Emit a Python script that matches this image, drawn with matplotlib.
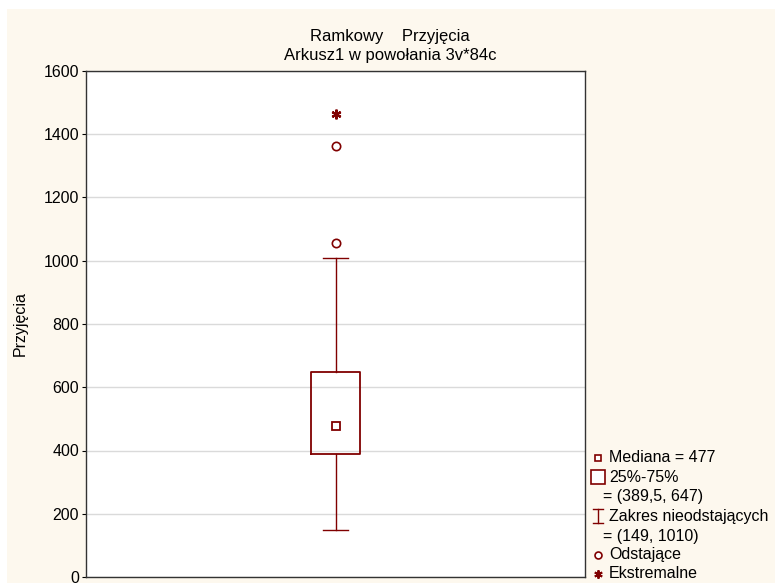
import matplotlib
matplotlib.use("Agg")
import matplotlib.pyplot as plt
from matplotlib.patches import Rectangle
from matplotlib.lines import Line2D

plt.rcParams['font.family'] = ['Liberation Sans', 'DejaVu Sans']

# Summary statistics of the "Przyjęcia" variable
median = 477
q1, q3 = 389.5, 647
whisker_low, whisker_high = 149, 1010
outliers = [1055, 1362]
extremes = [1463]
y_ticks = [0, 200, 400, 600, 800, 1000, 1200, 1400, 1600]

title = "Ramkowy    Przyjęcia\nArkusz1 w powołania 3v*84c"
ylabel = "Przyjęcia"

RED = "#800000"
CREAM = "#FDF8EE"

fig = plt.figure(figsize=(7.75, 5.83), dpi=100)
fig.patch.set_facecolor("white")
fig.add_artist(Rectangle((7 / 775, 0), 1, 1 - 9 / 583, transform=fig.transFigure,
                         facecolor=CREAM, edgecolor="none", zorder=0))

ax = fig.add_axes([86 / 775, 1 - 577 / 583, (585 - 86) / 775, (577 - 71) / 583])
ax.set_facecolor("white")

stats = [dict(med=median, q1=q1, q3=q3, whislo=whisker_low, whishi=whisker_high,
              fliers=[], label="")]
ax.bxp(stats, positions=[1], widths=0.2, capwidths=0.1, showfliers=False,
       boxprops=dict(color=RED, linewidth=1.3),
       whiskerprops=dict(color=RED, linewidth=1.0),
       capprops=dict(color=RED, linewidth=1.0),
       medianprops=dict(linewidth=0))
ax.plot([1], [median], marker="s", markersize=6, mfc="white", mec=RED, mew=1.3, zorder=5)
ax.plot([1] * len(outliers), outliers, linestyle="none", marker="o", markersize=6,
        mfc="white", mec=RED, mew=1.2, zorder=5)
ax.plot([1] * len(extremes), extremes, linestyle="none", marker=(6, 2, 0), markersize=7,
        mec=RED, mew=1.6, zorder=5)

ax.set_xlim(0, 2)
ax.set_ylim(0, 1600)
ax.set_yticks(y_ticks)
ax.set_xticks([])
ax.yaxis.grid(True, color="#DADADA", linewidth=1)
ax.set_axisbelow(True)
ax.tick_params(axis="y", length=3, labelsize=11.5, pad=2)
for s in ax.spines.values():
    s.set_color("#333333")
    s.set_linewidth(1)
ax.set_ylabel(ylabel, fontsize=11.5, labelpad=11)
fig.text(0.503, 1 - 46 / 583, title, fontsize=12, linespacing=1.3,
         ha="center", va="center")


def fmt(v):
    return (f"{v:g}").replace(".", ",")


# Legend drawn to the right of the plot area
lx = 598 / 775
tx = 609 / 775
rows = [
    (458, "s", 5, f"Mediana = {fmt(median)}"),
    (477, "s", 10, "25%-75%"),
    (497, None, 0, f"= ({fmt(q1)}, {fmt(q3)})"),
    (516, "cap", 0, "Zakres nieodstających"),
    (536, None, 0, f"= ({fmt(whisker_low)}, {fmt(whisker_high)})"),
    (555, "o", 5, "Odstające"),
    (574, "ext", 6, "Ekstremalne"),
]
for ypx, mk, ms, txt in rows:
    yf = 1 - ypx / 583
    if mk in ("s", "o"):
        fig.add_artist(Line2D([lx], [yf], transform=fig.transFigure, marker=mk,
                              markersize=ms, mfc="white", mec=RED, mew=1.2))
    elif mk == "ext":
        fig.add_artist(Line2D([lx], [yf], transform=fig.transFigure, marker=(6, 2, 0),
                              markersize=ms, mec=RED, mew=1.4))
    elif mk == "cap":
        h = 7 / 583
        w = 5 / 775
        fig.add_artist(Line2D([lx, lx], [yf - h, yf + h], transform=fig.transFigure,
                              color=RED, lw=1))
        for yy in (yf - h, yf + h):
            fig.add_artist(Line2D([lx - w, lx + w], [yy, yy], transform=fig.transFigure,
                                  color=RED, lw=1))
    xt = tx if mk is not None else 603 / 775
    fig.text(xt, yf, txt, fontsize=11.5, va="center", ha="left")

fig.savefig("out.png", dpi=100, facecolor=fig.get_facecolor())
